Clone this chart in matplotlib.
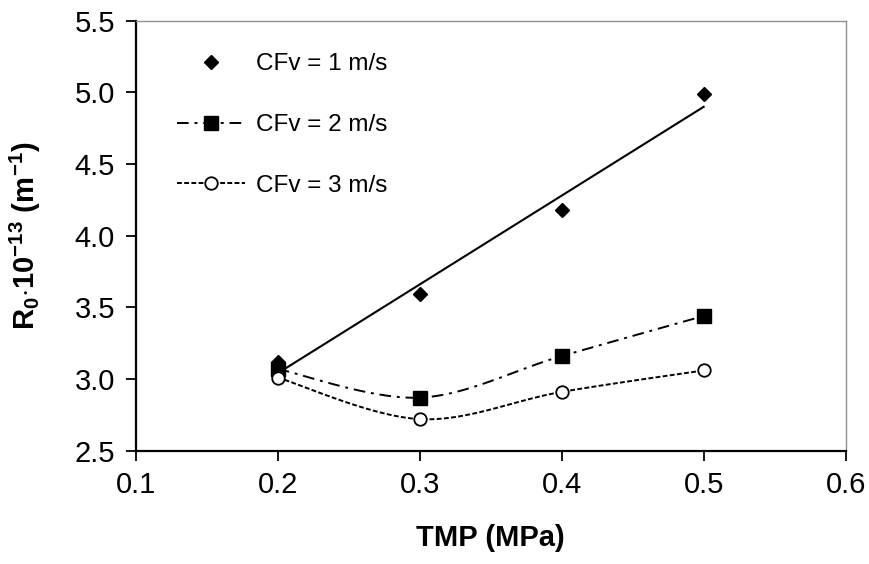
import numpy as np
import matplotlib
matplotlib.use('Agg')
import matplotlib.pyplot as plt

plt.rcParams['font.family'] = ['Liberation Sans', 'DejaVu Sans']
plt.rcParams['mathtext.fontset'] = 'custom'
plt.rcParams['mathtext.rm'] = 'Liberation Sans:bold'
plt.rcParams['mathtext.it'] = 'Liberation Sans:bold'
plt.rcParams['mathtext.bf'] = 'Liberation Sans:bold'

# data
tmp = [0.2, 0.3, 0.4, 0.5]
r0_cfv1 = [3.12, 3.59, 4.18, 4.99]
r0_cfv2 = [3.07, 2.87, 3.16, 3.44]
r0_cfv3 = [3.01, 2.72, 2.91, 3.06]
labels = ['CFv = 1 m/s', 'CFv = 2 m/s', 'CFv = 3 m/s']
x_ticks = [0.1, 0.2, 0.3, 0.4, 0.5, 0.6]
y_ticks = [2.5, 3.0, 3.5, 4.0, 4.5, 5.0, 5.5]


def smooth(x, y, n=40):
    # spreadsheet-style smoothed line (bezier through the points)
    pts = np.column_stack([x, y]).astype(float)
    pad = np.vstack([pts[0], pts, pts[-1]])
    t = np.linspace(0, 1, n)[:, None]
    out = []
    for i in range(len(pts) - 1):
        p0, p3 = pts[i], pts[i + 1]
        c1 = p0 + (pad[i + 2] - pad[i]) / 6
        c2 = p3 - (pad[i + 3] - pad[i + 1]) / 6
        seg = (1 - t) ** 3 * p0 + 3 * (1 - t) ** 2 * t * c1 + 3 * (1 - t) * t ** 2 * c2 + t ** 3 * p3
        out.append(seg)
    out = np.vstack(out)
    return out[:, 0], out[:, 1]


fig = plt.figure(figsize=(8.7, 5.64), dpi=100)
ax = fig.add_axes([0.156, 0.201, 0.816, 0.762])

# linear trend for CFv = 1
k, b = np.polyfit(tmp, r0_cfv1, 1)
xt = np.array([tmp[0], tmp[-1]])
ax.plot(xt, k * xt + b, color='black', lw=1.5)
ax.plot(tmp, r0_cfv1, 'D', color='black', ms=7.5, label=labels[0])

dash2 = (6, 3, 1.5, 3)
dash3 = (2.5, 1.2)
sx, sy = smooth(tmp, r0_cfv2)
ax.plot(sx, sy, color='black', lw=1.4, dashes=dash2)
ax.plot(tmp, r0_cfv2, 's', color='black', ms=10)

sx, sy = smooth(tmp, r0_cfv3)
ax.plot(sx, sy, color='black', lw=1.4, dashes=dash3)
ax.plot(tmp, r0_cfv3, 'o', mfc='white', mec='black', mew=1.3, ms=9)

h1 = plt.Line2D([], [], ls='none', marker='D', color='black', ms=7.5)
h2 = plt.Line2D([], [], color='black', lw=1.4, dashes=dash2, marker='s', ms=10)
h3 = plt.Line2D([], [], color='black', lw=1.4, dashes=dash3, marker='o', mfc='white',
                mec='black', mew=1.3, ms=9)
ax.legend([h1, h2, h3], labels, loc='upper left', bbox_to_anchor=(0.058, 0.925),
          frameon=False, fontsize=17.5, handlelength=2.8, handletextpad=0.45,
          labelspacing=1.6, borderpad=0, borderaxespad=0)

ax.set_xlim(0.1, 0.6)
ax.set_ylim(2.5, 5.5)
ax.set_xticks(x_ticks)
ax.set_xticklabels([f'{v:.1f}' for v in x_ticks])
ax.set_yticks(y_ticks)
ax.set_yticklabels([f'{v:.1f}' for v in y_ticks])
ax.tick_params(direction='out', length=7, width=1.3, labelsize=21, pad=8,
               top=False, right=False)

for s in ['left', 'bottom']:
    ax.spines[s].set_linewidth(1.6)
    ax.spines[s].set_color('black')
for s in ['top', 'right']:
    ax.spines[s].set_linewidth(1.0)
    ax.spines[s].set_color('#909090')

ax.set_xlabel('TMP (MPa)', fontsize=21, fontweight='bold')
ax.xaxis.set_label_coords(0.5, -0.17)
ax.set_ylabel(r'$R_0{\cdot}10^{-13}\ (m^{-1})$', fontsize=21)
ax.yaxis.set_label_coords(-0.13, 0.5)

fig.savefig('out.png', dpi=100)
